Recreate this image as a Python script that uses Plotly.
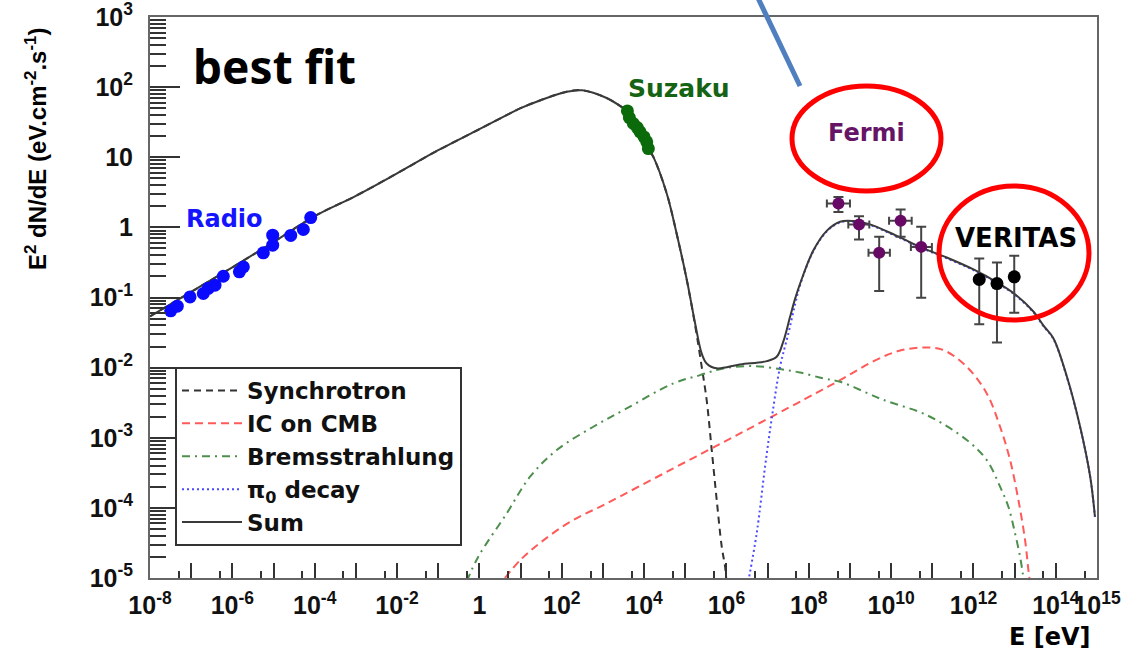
import numpy as np
import plotly.graph_objects as go

# ---------------- data ----------------
# Measured points
radio_e = [3.18e-8, 4.60e-8, 9.38e-8, 1.97e-7, 2.61e-7, 3.79e-7, 6.03e-7, 1.48e-6,
           1.85e-6, 5.65e-6, 9.55e-6, 9.55e-6, 2.62e-5, 5.30e-5, 8.00e-5]
radio_f = [0.0646, 0.0753, 0.102, 0.114, 0.135, 0.150, 0.201, 0.232,
           0.273, 0.433, 0.557, 0.774, 0.767, 0.933, 1.38]

suzaku_e = [3.93e3, 4.39e3, 5.48e3, 6.85e3, 7.98e3, 9.98e3, 1.16e4, 1.27e4]
suzaku_f = [45.8, 36.8, 30.3, 26.5, 23.0, 19.5, 16.6, 13.3]

fermi_e = [5.25e8, 1.66e9, 5.13e9, 1.70e10, 5.37e10]
fermi_e_lo = [2.75e8, 9.12e8, 2.82e9, 8.91e9, 3.02e10]
fermi_e_hi = [1.00e9, 2.95e9, 9.33e9, 3.16e10, 9.77e10]
fermi_f = [2.19, 1.10, 0.434, 1.24, 0.527]
fermi_f_hi = [2.72, 1.44, 0.733, 1.80, 1.02]
fermi_f_lo = [1.66, 0.671, 0.124, 0.733, 0.0989]

veritas_e = [1.38e12, 3.72e12, 9.77e12]
veritas_f = [0.181, 0.158, 0.197]
veritas_f_hi = [0.361, 0.316, 0.393]
veritas_f_lo = [0.0417, 0.0229, 0.0608]

# Model curves, read as (log10 E, log10 flux)
sum_loge = [-8.0, -7.0, -6.0, -5.0, -4.0, -3.0, -2.0, -1.0, 0.0, 0.66, 1.0, 1.47, 2.12, 2.5,
            3.09, 3.5, 3.6, 3.85, 4.0, 4.1, 4.225, 4.55, 4.79, 5.04, 5.24, 5.40, 5.52, 5.76,
            6.33, 6.98, 7.22, 7.38, 7.545, 7.667, 7.79, 8.11, 8.435, 8.76, 9.08, 9.45,
            10.1, 10.70, 11.35, 12.0, 12.56, 13.0, 13.455, 13.70, 13.94, 14.27, 14.59,
            14.835, 14.95]
sum_logf = [-1.27, -0.92, -0.57, -0.21, 0.16, 0.45, 0.77, 1.10, 1.40, 1.60, 1.70, 1.81,
            1.935, 1.955, 1.845, 1.70, 1.66, 1.43, 1.28, 1.125, 1.005, 0.483, -0.087,
            -0.753, -1.37, -1.80, -1.94, -2.01, -1.954, -1.907, -1.846, -1.63, -1.276,
            -1.02, -0.80, -0.33, -0.05, 0.08, 0.09, 0.05, -0.111, -0.278, -0.43, -0.60,
            -0.78, -0.95, -1.20, -1.40, -1.58, -2.131, -2.843, -3.556, -4.126]

sync_loge = [-8.0, -7.0, -6.0, -5.0, -4.0, -3.0, -2.0, -1.0, 0.0, 0.66, 1.0, 1.47, 2.12, 2.5,
             3.09, 3.5, 3.6, 3.85, 4.0, 4.1, 4.225, 4.55, 4.79, 5.04, 5.24, 5.40, 5.52,
             5.643, 5.764, 5.886, 5.967, 6.0]
sync_logf = [-1.27, -0.92, -0.57, -0.21, 0.16, 0.45, 0.77, 1.10, 1.40, 1.60, 1.70, 1.81,
             1.935, 1.955, 1.845, 1.70, 1.66, 1.43, 1.28, 1.125, 1.005, 0.483, -0.087,
             -0.76, -1.40, -1.99, -2.463, -3.176, -3.888, -4.554, -4.839, -5.05]

ic_loge = [0.62, 1.0, 1.473, 2.2, 3.093, 4.711, 6.331, 7.9, 8.76, 9.6, 10.2, 10.784, 11.27,
           11.837, 12.322, 12.646, 12.889, 13.091, 13.253, 13.334, 13.37]
ic_logf = [-5.0, -4.74, -4.50, -4.20, -3.935, -3.437, -2.938, -2.45, -2.178, -1.90, -1.76,
           -1.712, -1.750, -1.988, -2.368, -2.843, -3.318, -3.888, -4.458, -4.886, -5.05]

brems_loge = [-0.31, -0.026, 0.664, 1.23, 1.878, 2.768, 3.577, 4.711, 5.359, 5.925, 6.654,
              7.302, 7.788, 8.354, 8.76, 9.41, 9.81, 10.865, 11.837, 12.322, 12.646,
              12.848, 13.01, 13.131, 13.196, 13.22]
brems_logf = [-5.05, -4.696, -4.078, -3.556, -3.176, -2.843, -2.581, -2.225, -2.107, -2.011,
              -1.978, -2.021, -2.07, -2.154, -2.202, -2.36, -2.46, -2.677, -3.033, -3.318,
              -3.698, -3.984, -4.363, -4.696, -4.93, -5.05]

pi0_loge = [6.53, 6.735, 6.938, 7.10, 7.302, 7.504, 7.667, 7.79, 8.11, 8.435, 8.76, 9.08,
            9.45, 10.1, 10.70, 11.35, 12.0, 12.56, 13.0, 13.455, 13.70, 13.94, 14.27,
            14.59, 14.835, 14.95]
pi0_logf = [-5.05, -4.363, -3.413, -2.724, -1.988, -1.512, -1.10, -0.82, -0.34, -0.06, 0.07,
            0.08, 0.04, -0.12, -0.285, -0.44, -0.61, -0.79, -0.96, -1.21, -1.41, -1.59,
            -2.14, -2.85, -3.56, -4.13]

legend_names = ["Synchrotron", "IC on CMB", "Bremsstrahlung", "&#960;<sub>0</sub> decay", "Sum"]

x_tick_vals = [1e-8, 1e-7, 1e-6, 1e-5, 1e-4, 1e-3, 1e-2, 1e-1, 1e0, 1e1, 1e2, 1e3, 1e4,
               1e5, 1e6, 1e7, 1e8, 1e9, 1e10, 1e11, 1e12, 1e13, 1e14, 1e15]
x_tick_text = ["10<sup>-8</sup>", "", "10<sup>-6</sup>", "", "10<sup>-4</sup>", "",
               "10<sup>-2</sup>", "", "1", "", "10<sup>2</sup>", "", "10<sup>4</sup>", "",
               "10<sup>6</sup>", "", "10<sup>8</sup>", "", "10<sup>10</sup>", "",
               "10<sup>12</sup>", "", "10<sup>14</sup>", "10<sup>15</sup>"]
x_minor_vals = [5e-8, 5e-7, 5e-6, 5e-5, 5e-4, 5e-3, 5e-2, 5e-1, 5e0, 5e1, 5e2, 5e3, 5e4,
                5e5, 5e6, 5e7, 5e8, 5e9, 5e10, 5e11, 5e12, 5e13, 5e14]
y_tick_vals = [1e-5, 1e-4, 1e-3, 1e-2, 1e-1, 1e0, 1e1, 1e2, 1e3]
y_tick_text = ["10<sup>-5</sup>", "10<sup>-4</sup>", "10<sup>-3</sup>", "10<sup>-2</sup>",
               "10<sup>-1</sup>", "1", "10", "10<sup>2</sup>", "10<sup>3</sup>"]
y_minor_vals = [m * d for d in [1e-5, 1e-4, 1e-3, 1e-2, 1e-1, 1e0, 1e1, 1e2]
                for m in [2, 3, 4, 5, 6, 7, 8, 9]]

# ---------------- figure ----------------
FONT = "Liberation Sans, Arial, sans-serif"
WIDE = "DejaVu Sans, sans-serif"
W, H = 1134, 656
PL, PR, PT, PB = 150, 1097, 17, 578


def px(x):
    return (x - PL) / (PR - PL)


def py(y):
    return (PB - y) / (PB - PT)


def lin(v):
    return np.power(10.0, np.array(v, dtype=float))


fig = go.Figure()

curve_styles = [
    (legend_names[0], sync_loge, sync_logf, "#333333", "7px,5px"),
    (legend_names[1], ic_loge, ic_logf, "#ff5a5a", "8px,5px"),
    (legend_names[2], brems_loge, brems_logf, "#4d8f4d", "8px,5px,2px,5px"),
    (legend_names[3], pi0_loge, pi0_logf, "#4a4aff", "2px,3px"),
    (legend_names[4], sum_loge, sum_logf, "#3a3a3a", "solid"),
]
for name, le, lf, col, dash in curve_styles:
    fig.add_trace(go.Scatter(
        x=lin(le), y=lin(lf), mode="lines", name=name,
        line=dict(color=col, width=2, dash=dash, shape="spline", smoothing=1.0),
        hoverinfo="skip"))

fig.add_trace(go.Scatter(x=radio_e, y=radio_f, mode="markers", showlegend=False,
                         marker=dict(color="#0a0aff", size=13)))
fig.add_trace(go.Scatter(x=suzaku_e, y=suzaku_f, mode="markers", showlegend=False,
                         marker=dict(color="#0b6b0b", size=13)))

fe = np.array(fermi_e)
ff = np.array(fermi_f)
fig.add_trace(go.Scatter(
    x=fermi_e, y=fermi_f, mode="markers", showlegend=False,
    marker=dict(color="#660a66", size=12),
    error_x=dict(type="data", symmetric=False, array=np.array(fermi_e_hi) - fe,
                 arrayminus=fe - np.array(fermi_e_lo), color="#444444", thickness=2, width=4),
    error_y=dict(type="data", symmetric=False, array=np.array(fermi_f_hi) - ff,
                 arrayminus=ff - np.array(fermi_f_lo), color="#444444", thickness=2, width=5)))

vf = np.array(veritas_f)
fig.add_trace(go.Scatter(
    x=veritas_e, y=veritas_f, mode="markers", showlegend=False,
    marker=dict(color="#000000", size=13),
    error_y=dict(type="data", symmetric=False, array=np.array(veritas_f_hi) - vf,
                 arrayminus=vf - np.array(veritas_f_lo), color="#444444", thickness=2, width=5)))


# annotations
def label(text, x, y, size, color, family=WIDE, xanchor="center", angle=0):
    fig.add_annotation(text=text, xref="paper", yref="paper", x=px(x), y=py(y),
                       xanchor=xanchor, yanchor="middle", showarrow=False, textangle=angle,
                       font=dict(family=family, size=size, color=color, weight="bold"))


label("best fit", 274, 66, 46, "#000000", family="Noto Sans, sans-serif")
label("Radio", 224, 219, 24, "#1414ff")
label("Suzaku", 679, 88, 25, "#146414")
label("Fermi", 866, 133, 24, "#661466")
label("VERITAS", 1016, 238, 26, "#000000")
label("E [eV]", 1093, 637, 24, "#000000", xanchor="right")
label("E<sup>2</sup> dN/dE (eV.cm<sup>-2</sup>.s<sup>-1</sup>)", 36, 149, 24, "#000000",
      family=FONT, angle=-90)

# red ellipses and blue pointer line
fig.add_shape(type="circle", xref="paper", yref="paper", x0=px(792), x1=px(941),
              y0=py(191), y1=py(86), line=dict(color="#ff0000", width=5))
fig.add_shape(type="circle", xref="paper", yref="paper", x0=px(939), x1=px(1089),
              y0=py(320), y1=py(186), line=dict(color="#ff0000", width=5))
fig.add_shape(type="line", xref="paper", yref="paper", x0=px(758), y0=py(-2),
              x1=px(800), y1=py(86), line=dict(color="#4f7fbf", width=5))

axis_common = dict(
    type="log", showgrid=False, zeroline=False, showline=True, mirror=True,
    linecolor="#666666", linewidth=2, ticks="inside", tickcolor="#333333", tickwidth=2,
    tickmode="array", tickangle=0, automargin=False,
    tickfont=dict(family=FONT, size=25, color="#111111", weight="bold"),
)

fig.update_xaxes(**axis_common, range=[-8, 15], tickvals=x_tick_vals, ticktext=x_tick_text,
                 ticklen=15, ticklabelstandoff=4,
                 minor=dict(ticks="inside", ticklen=7, tickwidth=2, tickcolor="#333333",
                            tickmode="array", tickvals=x_minor_vals, showgrid=False))
fig.update_yaxes(**axis_common, range=[-5, 3], tickvals=y_tick_vals, ticktext=y_tick_text,
                 ticklen=30, ticklabelstandoff=10,
                 minor=dict(ticks="inside", ticklen=16, tickwidth=2, tickcolor="#333333",
                            tickmode="array", tickvals=y_minor_vals, showgrid=False))

fig.update_layout(
    width=W, height=H,
    margin=dict(l=PL, r=W - PR, t=PT, b=H - PB, pad=0, autoexpand=False),
    paper_bgcolor="white", plot_bgcolor="white",
    showlegend=True,
    legend=dict(x=px(175), y=py(367), xanchor="left", yanchor="top",
                bgcolor="white", bordercolor="#333333", borderwidth=2,
                font=dict(family=WIDE, size=23, color="#111111", weight="bold"),
                itemwidth=60, tracegroupgap=0),
)

fig.write_html("out.html")
